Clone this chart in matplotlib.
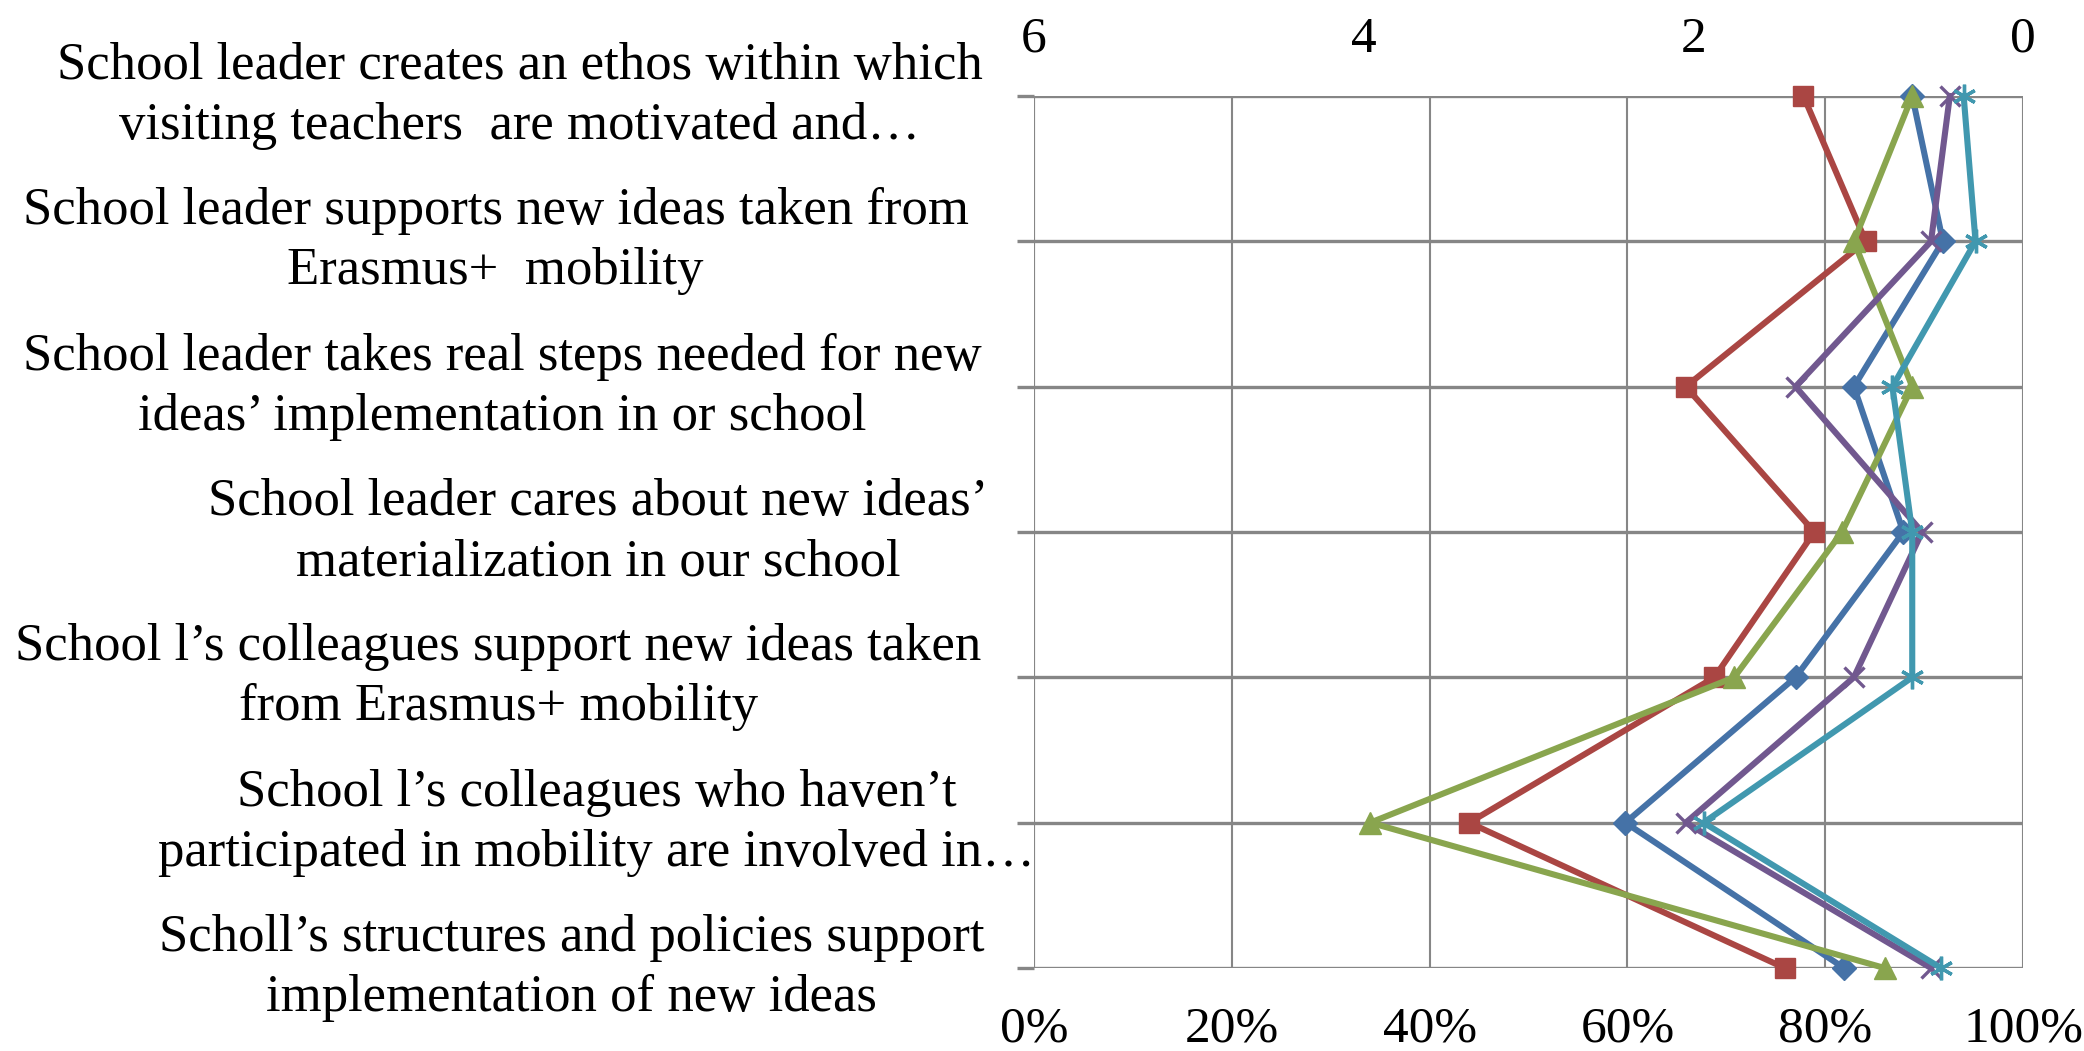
import matplotlib
matplotlib.use("Agg")
import matplotlib.pyplot as plt

plt.rcParams['font.family'] = ['Liberation Serif', 'DejaVu Serif']

categories = [
    "School leader creates an ethos within which\nvisiting teachers  are motivated and\u2026",
    "School leader supports new ideas taken from\nErasmus+  mobility",
    "School leader takes real steps needed for new\nideas\u2019 implementation in or school",
    "School leader cares about new ideas\u2019\nmaterialization in our school",
    "School l\u2019s colleagues support new ideas taken\nfrom Erasmus+ mobility",
    "School l\u2019s colleagues who haven\u2019t\nparticipated in mobility are involved in\u2026",
    "Scholl\u2019s structures and policies support\nimplementation of new ideas",
]

# Share of respondents (%) per statement, one list per series
series_blue = [88.8, 91.9, 82.9, 87.9, 77.0, 59.8, 81.9]
series_red = [77.8, 84.1, 65.9, 78.9, 68.8, 44.0, 75.9]
series_green = [88.8, 82.9, 88.8, 81.7, 70.8, 34.0, 86.0]
series_purple = [92.6, 90.7, 77.0, 89.8, 82.9, 65.9, 90.7]
series_teal = [94.0, 95.2, 86.8, 88.8, 88.8, 67.7, 91.7]

bottom_ticks = [0, 20, 40, 60, 80, 100]
bottom_labels = ["0%", "20%", "40%", "60%", "80%", "100%"]
top_ticks = [6, 4, 2, 0]
top_labels = ["6", "4", "2", "0"]

W, H = 2084, 1051
fig = plt.figure(figsize=(W / 100, H / 100), dpi=100)
ax = fig.add_axes([1034 / W, 1 - 968 / H, (2023 - 1034) / W, (968 - 96) / H])

ypos = list(range(len(categories)))
grid_c = "#868686"

styles = [
    (series_blue, "#4572A7", "D", 12, 1.0),
    (series_red, "#AA4643", "s", 14, 1.0),
    (series_green, "#89A54E", "^", 16, 1.0),
    (series_purple, "#71588F", "x", 15, 2.4),
    (series_teal, "#4198AF", (6, 2, 0), 17, 2.4),
]
for vals, col, mk, ms, mew in styles:
    ax.plot(vals, ypos, color=col, lw=4.4, marker=mk, ms=ms, mec=col,
            mfc=col, mew=mew, zorder=3, clip_on=False)

ax.set_xlim(0, 100)
ax.set_ylim(len(categories) - 1, 0)
ax.set_xticks(bottom_ticks)
ax.set_xticklabels(bottom_labels)
ax.set_yticks(ypos)
ax.set_yticklabels([])
ax.tick_params(axis='x', length=0, labelsize=37, pad=27)
ax.tick_params(axis='y', length=12, width=2.4, color=grid_c, direction='out')
ax.grid(axis='x', color=grid_c, lw=1.5)
ax.grid(axis='y', color=grid_c, lw=2.4)
for s in ax.spines.values():
    s.set_visible(False)
ax.axvline(0, color=grid_c, lw=1.5, zorder=1)
ax.set_axisbelow(True)

# Statement labels, centred multi-line blocks to the left of the plot
label_centers = [391, 373, 378, 450, 375, 449, 430]
for y, text, cx in zip(ypos, categories, label_centers):
    _, fy = fig.transFigure.inverted().transform(ax.transData.transform((0, y)))
    fig.text(cx / 1568, fy, text, ha='center', va='center', ma='center',
             fontsize=38, linespacing=1.33)

top = ax.twiny()
top.set_xlim(6, 0)
top.set_xticks(top_ticks)
top.set_xticklabels(top_labels)
top.tick_params(axis='x', length=0, labelsize=37, pad=24)
for s in top.spines.values():
    s.set_visible(False)

fig.savefig("out.png", dpi=100, facecolor="white")
